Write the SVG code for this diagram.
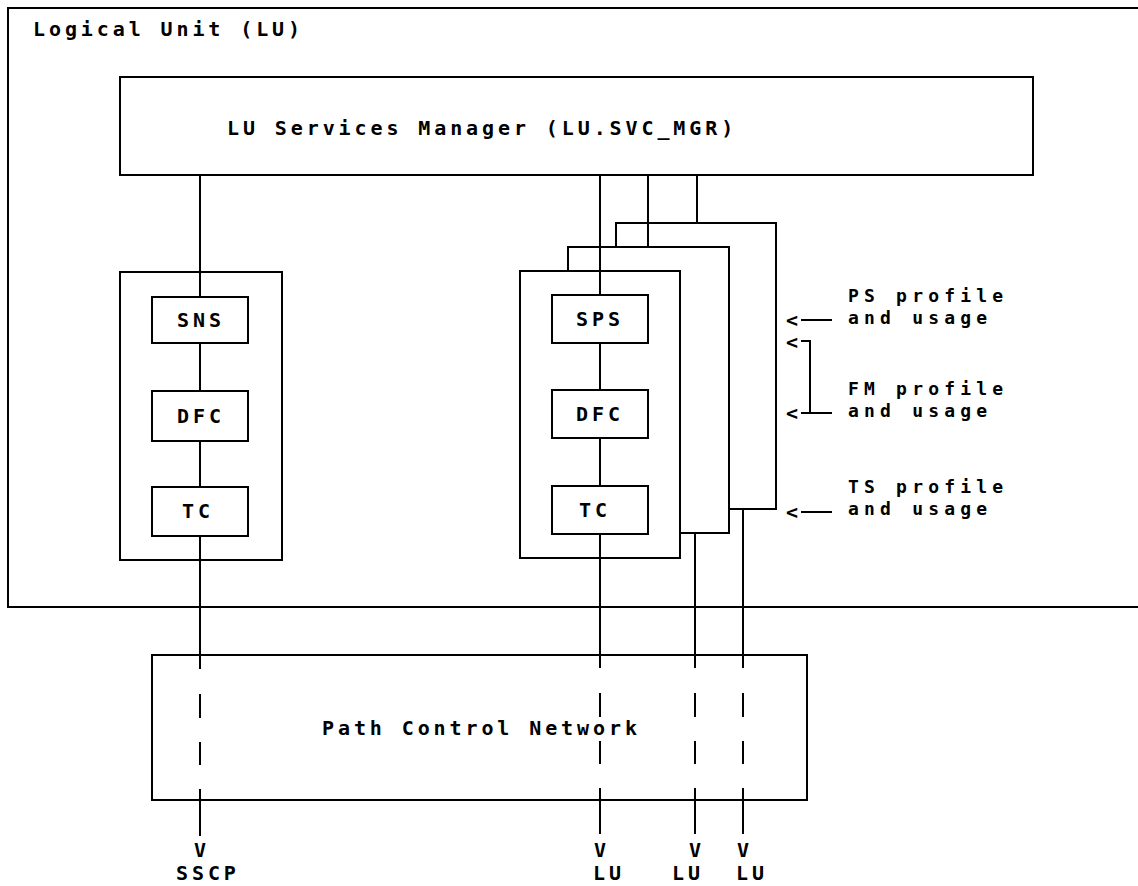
<svg xmlns="http://www.w3.org/2000/svg" width="1138" height="886" viewBox="0 0 1138 886">
<style>
  .box { fill: #fff; stroke: #000; stroke-width: 2; }
  .open { fill: none; stroke: #000; stroke-width: 2; }
  .ln { stroke: #000; stroke-width: 2; fill: none; }
  text { font-family: "DejaVu Sans Mono", "Liberation Mono", monospace; font-size: 20px; font-weight: bold; letter-spacing: 3.9px; fill: #000; }
  text.note { font-size: 18px; letter-spacing: 5.2px; }
</style>
<rect width="1138" height="886" fill="#fff"/>

<g id="logical-unit">
  <path class="open" d="M1140,8 H8 V607 H1140"/>
  <text x="33" y="36">Logical Unit (LU)</text>
</g>

<g id="lu-services-manager">
  <rect class="box" x="120" y="77" width="913" height="98"/>
  <text x="227" y="135">LU Services Manager (LU.SVC_MGR)</text>
</g>

<g id="path-control-network">
  <rect class="box" x="152" y="655" width="655" height="145"/>
  <text x="322" y="735">Path Control Network</text>
</g>

<g id="left-half-session">
  <rect class="open" x="120" y="272" width="162" height="288"/>
</g>

<g id="right-stack-3">
  <rect class="box" x="616" y="223" width="160" height="286"/>
</g>
<g id="right-stack-2">
  <rect class="box" x="568" y="247" width="161" height="286"/>
</g>
<g id="right-half-session">
  <rect class="box" x="520" y="271" width="160" height="287"/>
</g>

<g id="connectors">
  <line class="ln" x1="200" y1="175" x2="200" y2="297"/>
  <line class="ln" x1="200" y1="343" x2="200" y2="391"/>
  <line class="ln" x1="200" y1="441" x2="200" y2="487"/>
  <line class="ln" x1="200" y1="536" x2="200" y2="669"/>
  <line class="ln" x1="200" y1="694" x2="200" y2="718"/>
  <line class="ln" x1="200" y1="742" x2="200" y2="765"/>
  <line class="ln" x1="200" y1="789" x2="200" y2="836"/>
  <line class="ln" x1="600" y1="175" x2="600" y2="295"/>
  <line class="ln" x1="600" y1="343" x2="600" y2="390"/>
  <line class="ln" x1="600" y1="438" x2="600" y2="486"/>
  <line class="ln" x1="600" y1="534" x2="600" y2="668"/>
  <line class="ln" x1="600" y1="693" x2="600" y2="717"/>
  <line class="ln" x1="600" y1="741" x2="600" y2="764"/>
  <line class="ln" x1="600" y1="788" x2="600" y2="834"/>
  <line class="ln" x1="648" y1="175" x2="648" y2="247"/>
  <line class="ln" x1="697" y1="175" x2="697" y2="223"/>
  <line class="ln" x1="695" y1="533" x2="695" y2="668"/>
  <line class="ln" x1="695" y1="693" x2="695" y2="717"/>
  <line class="ln" x1="695" y1="741" x2="695" y2="764"/>
  <line class="ln" x1="695" y1="788" x2="695" y2="834"/>
  <line class="ln" x1="743" y1="509" x2="743" y2="668"/>
  <line class="ln" x1="743" y1="693" x2="743" y2="717"/>
  <line class="ln" x1="743" y1="741" x2="743" y2="764"/>
  <line class="ln" x1="743" y1="788" x2="743" y2="834"/>
  <line class="ln" x1="801" y1="320" x2="832" y2="320"/>
  <path class="ln" d="M801,341 H810 V413"/>
  <line class="ln" x1="801" y1="413" x2="832" y2="413"/>
  <line class="ln" x1="801" y1="512" x2="832" y2="512"/>
  <text x="786" y="327">&lt;</text>
  <text x="786" y="349">&lt;</text>
  <text x="786" y="420">&lt;</text>
  <text x="786" y="519">&lt;</text>
</g>

<g id="sns"><rect class="box" x="152" y="297" width="96" height="46"/><text x="177" y="327">SNS</text></g>
<g id="dfc-left"><rect class="box" x="152" y="391" width="96" height="50"/><text x="177" y="423">DFC</text></g>
<g id="tc-left"><rect class="box" x="152" y="487" width="96" height="49"/><text x="182" y="518">TC</text></g>

<g id="sps"><rect class="box" x="552" y="295" width="96" height="48"/><text x="576" y="326">SPS</text></g>
<g id="dfc-right"><rect class="box" x="552" y="390" width="96" height="48"/><text x="576" y="421">DFC</text></g>
<g id="tc-right"><rect class="box" x="552" y="486" width="96" height="48"/><text x="579" y="517">TC</text></g>

<g id="ps-profile">
  <text class="note" x="848" y="302">PS profile</text>
  <text class="note" x="848" y="324">and usage</text>
</g>
<g id="fm-profile">
  <text class="note" x="848" y="395">FM profile</text>
  <text class="note" x="848" y="417">and usage</text>
</g>
<g id="ts-profile">
  <text class="note" x="848" y="493">TS profile</text>
  <text class="note" x="848" y="515">and usage</text>
</g>

<g id="sscp-end"><text x="194" y="857">V</text><text x="176" y="880">SSCP</text></g>
<g id="lu-end-1"><text x="594" y="857">V</text><text x="593" y="880">LU</text></g>
<g id="lu-end-2"><text x="689" y="857">V</text><text x="672" y="880">LU</text></g>
<g id="lu-end-3"><text x="737" y="857">V</text><text x="736" y="880">LU</text></g>
</svg>
